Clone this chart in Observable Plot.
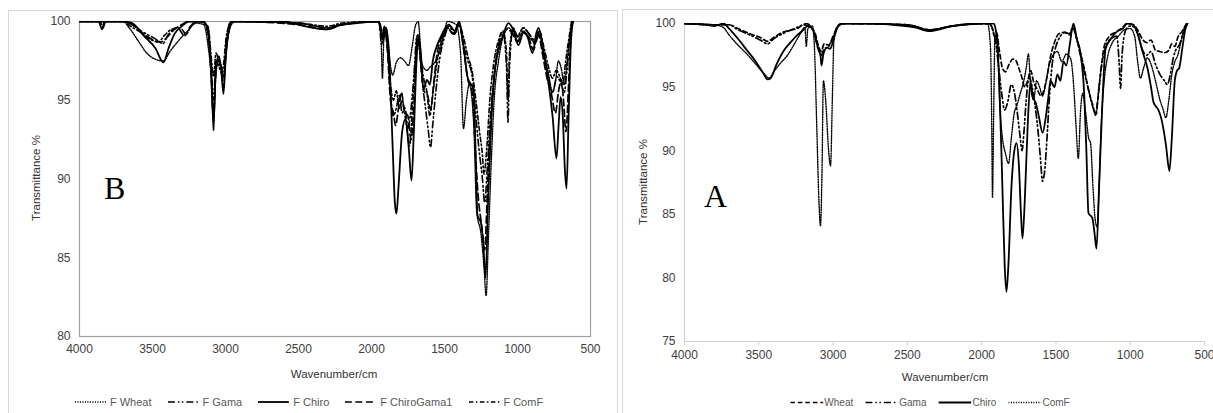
<!DOCTYPE html>
<html><head><meta charset="utf-8">
<script src="https://cdn.jsdelivr.net/npm/d3@7"></script>
<script src="https://cdn.jsdelivr.net/npm/@observablehq/plot@0.6"></script>
<style>
body{margin:0;width:1213px;height:413px;overflow:hidden;background:#fff;font-family:"Liberation Sans",Arial,sans-serif;position:relative}
.panel{position:absolute;border:1px solid #d9d9d9;box-sizing:border-box}
.ytitle{position:absolute;font-size:11.5px;color:#333;transform:translate(-50%,-50%) rotate(-90deg);white-space:nowrap}
.xtitle{position:absolute;font-size:11.5px;color:#333;transform:translate(-50%,-50%);white-space:nowrap}
.letter{position:absolute;font-family:"Liberation Serif","Times New Roman",serif;font-size:32px;line-height:1;color:#000}
.legend{position:absolute;display:flex;align-items:center;transform:translate(-50%,-50%);white-space:nowrap;color:#595959}
.legend .item{display:flex;align-items:center}
</style>
</head><body>
<div class="panel" style="left:8px;top:10px;width:610px;height:420px"></div>
<div class="panel" style="left:622px;top:9px;width:600px;height:420px"></div>
<script>
// ---------- tick labels / categories ----------
const xTicks = [4000, 3500, 3000, 2500, 2000, 1500, 1000, 500];
const bYTicks = [80, 85, 90, 95, 100];
const aYTicks = [75, 80, 85, 90, 95, 100];
const bSeries = ["F Wheat", "F Gama", "F Chiro", "F ChiroGama1", "F ComF"];
const aSeries = ["Wheat", "Gama", "Chiro", "ComF"];
const xTitle = "Wavenumber/cm";
const yTitle = "Transmittance %";

// ---------- panel B spectra: [wavenumber, transmittance %] ----------
const bWheat = [[4000,100],[3700,100],[3660,99.6],[3600,98.8],[3540,98],[3480,97.6],[3425,97.5],[3380,98.1],[3320,98.8],[3260,99.4],[3200,99.9],[3150,99.8],[3120,98.5],[3095,96],[3082,93.1],[3070,96],[3050,97.5],[3030,97.2],[3010,96.5],[2990,98.5],[2960,99.8],[2930,100],[2500,99.9],[2300,99.6],[2200,99.8],[1950,100],[1935,99],[1925,96.4],[1915,99],[1900,99.6],[1885,98.5],[1870,97.2],[1855,96.6],[1830,97.4],[1801,97.7],[1775,97.5],[1747,97.2],[1720,98.5],[1700,99.7],[1680,100],[1665,98.5],[1651,97.2],[1620,96.9],[1600,97.1],[1560,97.5],[1530,98.2],[1500,99.4],[1480,100],[1420,99.8],[1390,98],[1370,93.2],[1350,95],[1330,96],[1300,93.5],[1280,88],[1250,86.5],[1230,84.5],[1215,82.6],[1200,86],[1180,91],[1160,95],[1130,97.5],[1100,99],[1060,99.6],[1030,99.2],[1000,98.8],[960,99.4],[920,99],[880,98.7],[850,99.4],[820,98],[790,96.8],[760,95.5],[740,96.2],[720,97.5],[700,97],[680,96],[660,97.5],[640,99.2],[625,100]];
const bGama = [[4000,100],[3700,100],[3640,99.8],[3560,99.3],[3480,98.9],[3430,98.6],[3390,99.2],[3330,99.6],[3280,99.1],[3240,99.7],[3180,100],[3120,99.6],[3100,97.5],[3082,95],[3065,97.5],[3040,97],[3015,96.5],[2995,98.8],[2960,100],[2500,99.9],[2300,99.6],[2200,99.8],[1950,100],[1930,98.5],[1910,99.6],[1890,98.5],[1870,95.5],[1850,94],[1830,94.5],[1810,95.3],[1790,94.2],[1770,94.5],[1750,93.2],[1735,94],[1710,96.5],[1690,99],[1675,98.5],[1650,96],[1630,94.5],[1610,93],[1596,92],[1580,93.5],[1560,95.5],[1530,97.8],[1500,99],[1470,99.7],[1430,99.2],[1400,99.8],[1370,98.5],[1340,97.5],[1310,96.5],[1290,94.5],[1265,92],[1240,90],[1225,88.5],[1205,91],[1185,94],[1160,96.5],[1130,98.5],[1100,99.3],[1075,97],[1065,93.6],[1055,97],[1030,99.5],[1000,99],[960,99.6],[920,99.2],[880,98.6],[850,99.2],[820,97.8],[790,96.5],[760,95.5],[730,96.5],[700,96],[680,95.5],[660,97],[640,99],[625,100]];
const bChiro = [[4000,100],[3870,100],[3845,99.5],[3830,100],[3700,100],[3640,99.9],[3560,99.1],[3480,98.3],[3425,97.4],[3390,98.3],[3350,99.2],[3300,99.7],[3250,100],[3150,100],[3120,99.4],[3100,97],[3082,93.5],[3065,97.2],[3045,97.8],[3030,97],[3014,95.4],[3000,97.5],[2980,99.3],[2950,100],[2600,100],[2500,99.8],[2400,99.6],[2300,99.5],[2250,99.7],[2100,99.9],[1960,100],[1940,99.8],[1920,98.8],[1900,99.6],[1880,98],[1855,92],[1840,88.5],[1829,87.8],[1815,89.5],[1790,93],[1767,93.8],[1745,92],[1726,89.9],[1710,93],[1690,97.8],[1678,99.1],[1660,97.5],[1644,95.7],[1620,96.3],[1600,96],[1580,97.5],[1550,98.5],[1527,99],[1500,99.5],[1470,99.8],[1430,99.4],[1400,100],[1370,98.5],[1343,96.5],[1300,95.6],[1285,91],[1274,87.7],[1250,87.2],[1235,86],[1219,83.7],[1200,89],[1180,93.5],[1151,97.2],[1103,99],[1062,99.9],[1030,99.5],[993,98.5],[960,99.3],[930,99],[897,98],[870,99.3],[856,99.6],[820,98],[788,96.1],[760,94],[733,91.3],[718,93.5],[705,95.2],[690,94],[675,90.5],[664,89.4],[650,94],[635,98.5],[620,100]];
const bChiroGama1 = [[4000,100],[3860,100],[3840,99.6],[3820,100],[3700,100],[3640,99.8],[3560,99.2],[3490,98.8],[3440,98.7],[3400,99],[3350,99.5],[3300,99.8],[3250,100],[3150,100],[3120,99.2],[3100,97],[3082,94],[3065,97],[3045,97.5],[3030,97],[3014,95.8],[3000,97.8],[2975,99.5],[2950,100],[2500,99.8],[2300,99.5],[2200,99.8],[1950,100],[1930,99],[1910,99.6],[1890,98],[1870,95],[1850,94.2],[1835,93.4],[1815,94.5],[1795,95.5],[1775,94.3],[1750,94],[1730,92.5],[1710,94.5],[1690,98.5],[1678,99],[1660,97],[1640,95.6],[1615,95.3],[1595,94.4],[1575,96],[1550,98],[1520,99],[1480,99.6],[1440,99.2],[1400,99.9],[1370,98.3],[1340,96.3],[1310,95.5],[1290,92],[1270,89],[1245,87],[1225,85.5],[1205,89.5],[1185,93.5],[1160,96.5],[1130,98.2],[1100,99.1],[1070,99.5],[1040,99.3],[1000,98.7],[960,99.3],[920,98.9],[890,98.2],[860,99.3],[830,98],[800,96.5],[770,95.5],[740,94.2],[720,95.5],[700,96.3],[685,95],[668,93],[650,96],[635,99],[620,100]];
const bComF = [[4000,100],[3700,100],[3650,99.7],[3580,99.3],[3520,98.9],[3460,98.7],[3420,99.1],[3370,99.5],[3310,99.6],[3270,99.2],[3230,99.8],[3180,100],[3120,99.7],[3100,98],[3082,96.5],[3065,98],[3040,97.3],[3020,97],[2995,99],[2960,100],[2500,99.9],[2300,99.7],[2200,99.9],[1950,100],[1930,99.2],[1910,99.7],[1890,98.2],[1870,96],[1850,95],[1830,95.6],[1810,94.5],[1790,95],[1770,94],[1755,93],[1740,92.1],[1720,94.5],[1700,97.5],[1685,99.2],[1665,97.8],[1645,96.5],[1620,95.5],[1600,94],[1585,95],[1565,96.5],[1540,98],[1510,99],[1480,99.6],[1440,99.2],[1400,99.8],[1370,99],[1340,97.8],[1310,96.8],[1285,95],[1260,93],[1240,91.5],[1230,90.3],[1210,92],[1190,95],[1165,97.2],[1130,98.8],[1100,99.4],[1075,98],[1065,95],[1055,98],[1030,99.6],[1000,99.1],[960,99.6],[920,99.2],[880,98.8],[850,99.4],[820,98.4],[790,97.2],[760,96.4],[735,96.9],[710,96.5],[690,96],[670,97.5],[650,98.8],[630,100]];

// ---------- panel A spectra: [wavenumber, transmittance %] ----------
const aWheat = [[4000,100],[3800,99.9],[3700,99.9],[3640,99.6],[3560,99.2],[3490,98.9],[3440,98.6],[3400,98.9],[3340,99.3],[3280,99.5],[3240,99.6],[3200,99.9],[3160,99.8],[3120,99.2],[3100,98.3],[3080,97.8],[3060,98.4],[3030,98.3],[3000,99],[2970,99.7],[2940,100],[2500,99.9],[2350,99.5],[2200,99.8],[1950,100],[1930,99.7],[1915,99],[1900,99.3],[1880,97.8],[1860,96.5],[1840,96.2],[1815,96.8],[1790,97.2],[1770,97.1],[1750,96.5],[1730,95.8],[1710,95],[1690,95.5],[1670,96.3],[1650,95.4],[1625,94.8],[1600,94.3],[1580,94.8],[1560,95.8],[1540,97.2],[1510,98.5],[1480,99.2],[1440,99.3],[1410,99.1],[1385,99.6],[1360,98.8],[1335,97.7],[1310,96.5],[1290,95.3],[1270,94.3],[1250,93.5],[1235,92.8],[1220,93.8],[1200,96],[1175,98.2],[1140,99],[1100,99.3],[1060,99.6],[1020,100],[980,99.9],[950,99.5],[920,98.8],[890,98.5],[860,98.7],[830,97.9],[800,97.8],[770,97.7],[740,97.9],[720,98.4],[700,98.2],[680,98.9],[650,99.4],[620,100]];
const aGama = [[4000,100],[3800,99.9],[3700,99.9],[3640,99.5],[3560,99.1],[3490,98.7],[3440,98.4],[3400,98.8],[3340,99.2],[3280,99.5],[3220,99.8],[3180,100],[3130,99.3],[3100,98],[3080,97.5],[3060,98],[3030,98.2],[3000,98.9],[2970,99.7],[2940,100],[2500,99.9],[2350,99.5],[2200,99.8],[1950,100],[1925,99.5],[1905,98.5],[1885,96.5],[1865,94.5],[1845,93.2],[1825,93.8],[1800,95.2],[1780,94.6],[1760,93],[1740,91],[1728,90],[1715,91.5],[1700,94],[1680,95.8],[1660,95],[1640,93.5],[1620,91.5],[1605,89.5],[1590,87.6],[1575,88.5],[1560,91],[1545,94],[1525,96.8],[1500,98.2],[1470,99],[1440,99.3],[1410,99.2],[1385,99.7],[1360,98.8],[1335,97.5],[1310,96.2],[1285,95],[1265,94],[1245,93.2],[1230,92.8],[1215,94.5],[1195,96.5],[1170,98],[1130,98.8],[1090,99],[1075,97],[1065,94.9],[1055,97.5],[1030,99.5],[1000,99.8],[970,99.7],[945,99],[920,98],[890,97.5],[860,97.8],[830,96.8],[800,96],[770,95.5],[750,95.2],[730,96],[710,97.3],[690,98],[670,98.3],[650,99],[630,99.7],[618,100]];
const aChiro = [[4000,100],[3850,99.9],[3800,99.8],[3737,100],[3700,99.6],[3640,98.8],[3580,97.9],[3520,97],[3470,96.1],[3441,95.6],[3420,95.7],[3380,96.8],[3330,97.9],[3280,98.6],[3240,99.1],[3200,99.5],[3172,99.8],[3140,99.6],[3120,99],[3100,98],[3085,97.5],[3078,96.7],[3065,97.6],[3040,98.1],[3020,98],[3000,98.6],[2980,99.4],[2960,99.9],[2940,100],[2700,100],[2600,99.9],[2450,99.7],[2350,99.4],[2300,99.5],[2200,99.8],[2000,100],[1920,100],[1905,99.5],[1880,95],[1860,87],[1845,81],[1833,78.9],[1820,81],[1800,87],[1780,90],[1765,90.6],[1750,89],[1735,85],[1725,83.1],[1710,86],[1690,92],[1671,95.4],[1655,94.2],[1637,93.8],[1615,92.7],[1590,91.4],[1570,92.5],[1550,94.3],[1537,95.5],[1510,95],[1490,96],[1470,95.5],[1449,97],[1430,96.7],[1405,98.5],[1382,100],[1360,98.8],[1335,97.7],[1310,94.5],[1295,90],[1281,85.1],[1255,84.7],[1240,83.5],[1227,82.3],[1210,87],[1190,93],[1166,98],[1130,98.8],[1086,99.4],[1050,99.6],[1020,100],[980,99.9],[950,99.2],[917,97.8],[884,96.5],[860,95],[843,93.8],[810,93.2],[790,92.5],[760,90.5],[736,88.4],[720,91],[700,95.5],[685,96.3],[670,96.5],[650,98],[630,99.5],[614,100]];
const aComF = [[4000,100],[3800,99.9],[3740,99.7],[3700,99.1],[3640,98.3],[3580,97.6],[3520,96.8],[3460,96],[3430,95.7],[3400,96.2],[3360,96.8],[3307,97.5],[3260,98.4],[3220,99.2],[3190,99.7],[3180,98.2],[3170,99.6],[3140,99.8],[3125,98],[3110,92],[3095,86],[3085,84.1],[3075,88],[3065,95.5],[3050,94],[3030,90],[3017,88.8],[3005,94],[2995,98.5],[2980,99.6],[2950,99.9],[2900,100],[2500,99.9],[2350,99.5],[2200,99.8],[1960,100],[1940,98],[1932,92],[1927,86.3],[1920,92],[1910,99],[1895,99],[1880,94],[1860,91],[1840,89.8],[1819,89],[1800,91],[1780,93],[1765,93.5],[1740,94.5],[1720,95.3],[1700,96.5],[1685,97.6],[1670,95],[1650,94],[1630,95.5],[1610,95],[1590,94.3],[1570,95.2],[1550,96.5],[1520,97.5],[1490,97.8],[1460,97],[1430,97.6],[1400,97.2],[1380,95],[1365,92],[1349,89.4],[1335,93],[1320,94.5],[1300,93],[1280,91],[1267,90.6],[1250,87],[1235,84.5],[1222,84],[1210,87],[1195,92],[1175,95.5],[1150,97.5],[1120,98.5],[1080,99],[1040,99.5],[1000,99.6],[970,99],[950,97],[931,95.7],[910,96.5],[885,97.3],[860,96.8],[830,95.5],[800,94],[780,93.3],[760,92.6],[740,94],[720,96],[700,97],[680,97.5],[660,98.5],[640,99.5],[620,100]];

// ---------- styles ----------
const DOT = "1.1,1.4", LDD = "7,3,1.5,2.5,1.5,3", LD = "7,3.5", DD = "4.5,2.5,1.5,2.5", DASH = "4.5,3";
const bStyles = [
  {data: bWheat, dash: DOT, w: 1.4},
  {data: bGama, dash: LDD, w: 1.6},
  {data: bChiro, dash: null, w: 1.8},
  {data: bChiroGama1, dash: LD, w: 1.7},
  {data: bComF, dash: DD, w: 1.6}
];
const aStyles = [
  {data: aWheat, dash: DASH, w: 1.7},
  {data: aGama, dash: LDD, w: 1.7},
  {data: aChiro, dash: null, w: 1.8},
  {data: aComF, dash: DOT, w: 1.4}
];

function table(points, name) {
  return points.map(([w, t]) => ({w, t, name})).sort((a, b) => a.w - b.w);
}
function lines(styles, names) {
  return styles.map((s, i) => Plot.line(table(s.data, names[i]), {
    x: "w", y: "t", stroke: "#000", strokeWidth: s.w,
    strokeDasharray: s.dash || undefined, curve: "monotone-x", clip: true
  }));
}
const fmt = d => `${d}`;
const svgStyle = {background: "transparent", maxWidth: "none", overflow: "visible",
  fontFamily: "'Liberation Sans', Arial, sans-serif", fontSize: "12px", color: "#404040"};

const bPlot = Plot.plot({
  width: 617, height: 370, marginLeft: 79, marginRight: 27, marginTop: 21, marginBottom: 34,
  style: svgStyle,
  x: {domain: [xTicks[0], xTicks[xTicks.length - 1]]},
  y: {domain: [bYTicks[0], bYTicks[bYTicks.length - 1]]},
  marks: [
    Plot.frame({stroke: "#a0a0a0", strokeWidth: 1.2}),
    Plot.axisX({ticks: xTicks, tickFormat: fmt, tickSize: 0, tickPadding: 8, fontSize: 12, label: null}),
    Plot.axisY({ticks: bYTicks, tickFormat: fmt, tickSize: 0, tickPadding: 9, fontSize: 12, label: null}),
    ...lines(bStyles, bSeries)
  ]
});
bPlot.style.position = "absolute"; bPlot.style.left = "0px"; bPlot.style.top = "0px";
document.body.appendChild(bPlot);

const aPlot = Plot.plot({
  width: 608, height: 370, marginLeft: 79, marginRight: 9, marginTop: 23, marginBottom: 29,
  style: svgStyle,
  x: {domain: [xTicks[0], xTicks[xTicks.length - 1]]},
  y: {domain: [aYTicks[0], aYTicks[aYTicks.length - 1]]},
  marks: [
    Plot.ruleX([xTicks[0]], {stroke: "#cfcfcf", strokeWidth: 1}),
    Plot.ruleY([aYTicks[0]], {stroke: "#cfcfcf", strokeWidth: 1}),
    Plot.axisX({ticks: xTicks, tickFormat: fmt, tickSize: 4, tickPadding: 5, stroke: "#cfcfcf", fontSize: 12, label: null}),
    Plot.axisY({ticks: aYTicks, tickFormat: fmt, tickSize: 0, tickPadding: 9, fontSize: 12, label: null}),
    ...lines(aStyles, aSeries)
  ]
});
aPlot.style.position = "absolute"; aPlot.style.left = "605px"; aPlot.style.top = "0px";
document.body.appendChild(aPlot);

// ---------- titles, letters, legends ----------
function addDiv(cls, text, css) {
  const d = document.createElement("div");
  d.className = cls; d.textContent = text;
  Object.assign(d.style, css);
  document.body.appendChild(d);
  return d;
}
addDiv("ytitle", yTitle, {left: "36px", top: "178px"});
addDiv("ytitle", yTitle, {left: "643px", top: "182px"});
addDiv("xtitle", xTitle, {left: "334px", top: "374px"});
addDiv("xtitle", xTitle, {left: "945px", top: "377px"});
addDiv("letter", "B", {left: "104px", top: "172px"});
addDiv("letter", "A", {left: "704px", top: "180px"});

function legend(styles, names, css, swW, gapText, gapItem, fs) {
  const lg = document.createElement("div");
  lg.className = "legend";
  Object.assign(lg.style, css, {fontSize: fs + "px"});
  styles.forEach((s, i) => {
    const it = document.createElement("div");
    it.className = "item";
    it.style.marginRight = (i < styles.length - 1 ? gapItem : 0) + "px";
    const ns = "http://www.w3.org/2000/svg";
    const sv = document.createElementNS(ns, "svg");
    sv.setAttribute("width", swW); sv.setAttribute("height", 8);
    const ln = document.createElementNS(ns, "line");
    ln.setAttribute("x1", 0); ln.setAttribute("x2", swW);
    ln.setAttribute("y1", 4); ln.setAttribute("y2", 4);
    ln.setAttribute("stroke", "#000"); ln.setAttribute("stroke-width", s.w);
    if (s.dash) ln.setAttribute("stroke-dasharray", s.dash);
    sv.appendChild(ln);
    const tx = document.createElement("span");
    tx.textContent = names[i];
    tx.style.marginLeft = gapText + "px";
    it.appendChild(sv); it.appendChild(tx);
    lg.appendChild(it);
  });
  document.body.appendChild(lg);
}
legend(bStyles, bSeries, {left: "309px", top: "402px"}, 31, 4, 16, 11);
legend(aStyles, aSeries, {left: "930px", top: "402px"}, 33, 1, 12, 10);
</script>
</body></html>
